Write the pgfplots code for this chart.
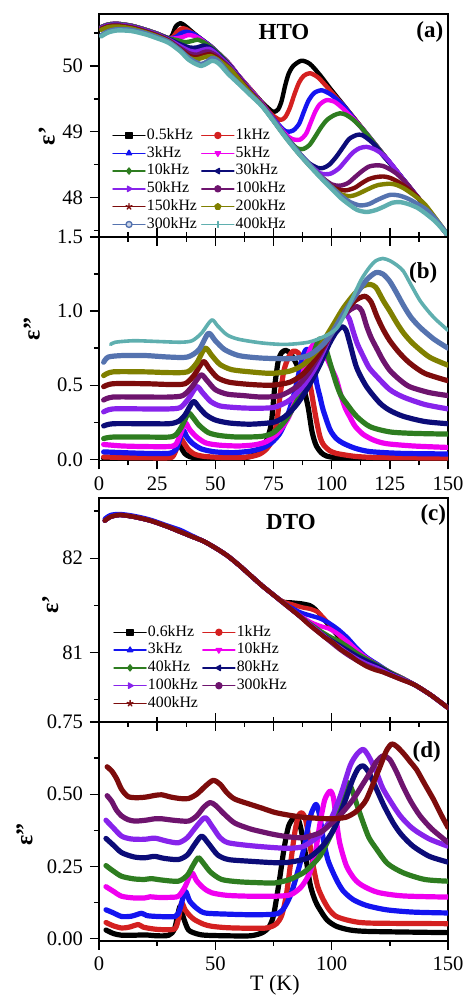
\documentclass[border=0pt]{standalone}
\usepackage{fontspec}
\setmainfont{Liberation Serif}
\usepackage{pgfplots}
\pgfplotsset{compat=1.18}

\definecolor{k05}{RGB}{0,0,0}
\definecolor{r1}{RGB}{212,32,32}
\definecolor{b3}{RGB}{20,20,240}
\definecolor{m5}{RGB}{240,0,240}
\definecolor{g10}{RGB}{46,125,32}
\definecolor{n30}{RGB}{12,12,120}
\definecolor{v50}{RGB}{135,35,235}
\definecolor{p100}{RGB}{110,20,110}
\definecolor{d150}{RGB}{125,12,12}
\definecolor{o200}{RGB}{128,128,0}
\definecolor{s300}{RGB}{85,115,175}
\definecolor{t400}{RGB}{95,175,175}

\tikzset{lab/.style={font=\fontsize{11.5}{12}\selectfont\bfseries}}
\pgfplotsset{
  panel/.style={
    scale only axis, width=174.5pt, xmin=0, xmax=150,
    tick align=outside, ytick pos=left,
    axis line style={line width=0.8pt},
    every tick/.style={black, line width=0.7pt},
    major tick length=4.5pt, minor tick length=2.5pt,
    tick label style={font=\fontsize{10.3}{11}\selectfont},
    /pgf/number format/assume math mode=true,
    ylabel style={font=\fontsize{12}{12}\selectfont\bfseries, anchor=center},
    legend cell align=left,
    legend image code/.code={\draw[##1, line width=0.7pt, mark repeat=2, mark phase=2] plot coordinates {(0pt,0pt) (8pt,0pt) (16pt,0pt)};},
    legend style={draw=none, fill=none, inner sep=0pt, font=\fontsize{7.9}{8}\selectfont,
      row sep=0.9pt, nodes={inner sep=0.6pt, text height=5.3pt, text depth=1.5pt},
      /tikz/every even column/.append style={column sep=1.5pt}},
  },
  crv/.style={line width=2.2pt, smooth, tension=0.45, line join=round, line cap=round,
    mark repeat=1000, mark phase=1000, mark size=1.5pt},
  crvb/.style={line width=2.6pt, smooth, tension=0.45, line join=round, line cap=round},
}

\begin{document}
\begin{tikzpicture}
\useasboundingbox (-49.5pt,-29.5pt) rectangle (183pt,470.5pt);

% ---------------- (a) HTO eps'
\begin{axis}[panel, at={(0pt,352pt)}, height=111.5pt,
  ymin=47.4, ymax=50.79, ytick={48,49,50}, minor ytick={47.5,48.5,49.5,50.5},
  xtick={0,25,...,150}, minor xtick={12.5,37.5,62.5,87.5,112.5,137.5},
  xticklabels={}, xtick pos=bottom,
  ylabel={ε'}, ylabel style={at={(rel axis cs:-0.150,0.453)}},
  legend columns=2, legend style={at={(0.037,0.493)}, anchor=north west}]
\addplot[crv, k05, mark=square*, mark options={solid}] coordinates {
(1,50.59) (4,50.63) (8,50.64) (14,50.61) (20,50.55) (25,50.49) (30,50.42) (31.5,50.47) (33,50.60) (35,50.65) (37,50.61) (41,50.49) (45,50.38) (48,50.30) (52,50.17) (56,50.03) (60,49.85) (65,49.65) (70,49.45) (73,49.35) (75,49.30) (77,49.34) (78.5,49.47) (80,49.70) (81.5,49.88) (83.5,50.00) (87,50.08) (90.7,50.03) (95,49.86) (99.3,49.66) (105,49.41) (110,49.19) (115,48.97) (120,48.75) (125,48.53) (130,48.31) (135,48.09) (140,47.87) (145,47.65) (150,47.42)};
\addlegendentry{0.5kHz}
\addplot[crv, r1, mark=*, mark options={solid}] coordinates {
(1,50.59) (4,50.63) (8,50.64) (14,50.61) (20,50.55) (25,50.49) (30,50.42) (32,50.45) (33.5,50.52) (35.5,50.57) (37.5,50.56) (41,50.48) (45,50.38) (48,50.30) (52,50.17) (56,50.03) (60,49.85) (65,49.65) (70,49.44) (74,49.27) (77.8,49.18) (80,49.22) (82,49.36) (84,49.57) (86,49.75) (88,49.85) (90.7,49.89) (94,49.83) (97,49.72) (100,49.60) (103,49.48) (106,49.36) (110,49.19) (115,48.97) (120,48.75) (125,48.53) (130,48.31) (135,48.09) (140,47.87) (145,47.65) (150,47.42)};
\addlegendentry{1kHz}
\addplot[crv, b3, mark=triangle*, mark options={solid}] coordinates {
(1,50.59) (4,50.63) (8,50.64) (14,50.61) (20,50.55) (25,50.49) (30,50.42) (33,50.44) (35,50.49) (37,50.52) (39,50.51) (41,50.48) (45,50.38) (48,50.30) (52,50.17) (56,50.03) (60,49.85) (65,49.64) (70,49.43) (75,49.20) (79,49.04) (81,49.00) (83.5,49.02) (86,49.12) (88,49.30) (90,49.47) (92.5,49.59) (95.7,49.63) (99,49.58) (102,49.50) (105,49.40) (108,49.27) (110,49.18) (115,48.97) (120,48.75) (125,48.53) (130,48.31) (135,48.09) (140,47.87) (145,47.65) (150,47.42)};
\addlegendentry{3kHz}
\addplot[crv, m5, mark=triangle*, mark options={solid, rotate=180}] coordinates {
(1,50.59) (4,50.63) (8,50.64) (14,50.61) (20,50.55) (25,50.49) (30,50.42) (33,50.42) (36,50.44) (38.3,50.47) (40.5,50.46) (43,50.42) (45,50.37) (48,50.29) (52,50.17) (56,50.03) (60,49.85) (65,49.64) (70,49.43) (75,49.19) (80,48.97) (83,48.89) (86.4,48.88) (89,48.97) (91,49.14) (93,49.31) (95,49.42) (97.8,49.48) (101,49.46) (104,49.38) (107,49.28) (110,49.17) (115,48.97) (120,48.75) (125,48.53) (130,48.31) (135,48.09) (140,47.87) (145,47.65) (150,47.42)};
\addlegendentry{5kHz}
\addplot[crv, g10, mark=diamond*, mark options={solid}] coordinates {
(1,50.59) (4,50.63) (8,50.64) (14,50.61) (20,50.55) (25,50.49) (30,50.42) (34,50.39) (37,50.36) (40,50.38) (42.5,50.40) (45,50.36) (48,50.29) (52,50.17) (56,50.02) (60,49.84) (65,49.63) (70,49.42) (75,49.18) (80,48.94) (85,48.75) (88,48.74) (90.5,48.80) (93,48.93) (95.5,49.07) (98,49.18) (101,49.25) (103.6,49.28) (106,49.26) (109,49.19) (112,49.09) (115,48.97) (120,48.75) (125,48.53) (130,48.31) (135,48.09) (140,47.87) (145,47.65) (150,47.42)};
\addlegendentry{10kHz}
\addplot[crv, n30, mark=triangle*, mark options={solid, rotate=90}] coordinates {
(1,50.58) (4,50.62) (8,50.63) (14,50.60) (20,50.54) (25,50.48) (30,50.41) (35,50.33) (39,50.28) (42,50.28) (45,50.31) (48,50.27) (52,50.15) (56,50.01) (60,49.84) (65,49.62) (70,49.42) (75,49.18) (80,48.94) (85,48.72) (90,48.53) (94,48.45) (96.4,48.45) (99,48.50) (102,48.62) (105,48.77) (107.5,48.89) (110.7,48.95) (113,48.95) (116,48.88) (119,48.78) (122,48.64) (125,48.52) (130,48.31) (135,48.09) (140,47.87) (145,47.65) (150,47.42)};
\addlegendentry{30kHz}
\addplot[crv, v50, mark=triangle*, mark options={solid, rotate=270}] coordinates {
(1,50.58) (4,50.62) (8,50.63) (14,50.60) (20,50.54) (25,50.48) (30,50.40) (35,50.30) (39,50.23) (42,50.22) (45,50.25) (47.5,50.26) (50,50.20) (53,50.10) (56,50.00) (60,49.83) (65,49.62) (70,49.42) (75,49.18) (80,48.94) (85,48.72) (90,48.52) (95,48.37) (99.3,48.36) (103,48.44) (106,48.56) (109,48.68) (112,48.75) (115,48.77) (118,48.74) (121,48.68) (124,48.58) (127,48.45) (130,48.31) (135,48.09) (140,47.87) (145,47.65) (150,47.42)};
\addlegendentry{50kHz}
\addplot[crv, p100, mark=*, mark options={solid}] coordinates {
(1,50.57) (4,50.61) (8,50.62) (14,50.59) (20,50.53) (25,50.47) (30,50.39) (35,50.27) (39,50.19) (42,50.17) (45,50.21) (47,50.22) (50,50.17) (53,50.08) (56,49.98) (60,49.82) (65,49.61) (70,49.41) (75,49.17) (80,48.94) (85,48.71) (90,48.51) (95,48.33) (100,48.20) (103.6,48.18) (107,48.22) (110,48.31) (113,48.40) (116,48.47) (119.3,48.49) (122,48.48) (125,48.43) (128,48.36) (132,48.22) (135,48.09) (140,47.87) (145,47.65) (150,47.42)};
\addlegendentry{100kHz}
\addplot[crv, d150, mark=star, mark options={solid}] coordinates {
(1,50.56) (4,50.60) (8,50.61) (14,50.58) (20,50.52) (25,50.46) (30,50.38) (35,50.25) (39,50.15) (42,50.13) (45,50.16) (47.5,50.18) (50,50.14) (53,50.06) (56,49.96) (60,49.81) (65,49.60) (70,49.41) (75,49.17) (80,48.93) (85,48.71) (90,48.51) (95,48.33) (100,48.17) (103,48.12) (106.4,48.11) (110,48.15) (113,48.22) (116,48.28) (119,48.31) (122.2,48.32) (125,48.30) (128,48.25) (131,48.18) (134,48.10) (137,48.00) (140,47.88) (145,47.65) (150,47.42)};
\addlegendentry{150kHz}
\addplot[crv, o200, mark=pentagon*, mark options={solid}] coordinates {
(1,50.55) (4,50.59) (8,50.60) (14,50.57) (20,50.51) (25,50.45) (30,50.37) (35,50.23) (39,50.12) (42,50.10) (45,50.13) (48,50.15) (51,50.10) (54,50.02) (57,49.93) (60,49.80) (65,49.59) (70,49.40) (75,49.17) (80,48.93) (85,48.71) (90,48.51) (95,48.32) (100,48.16) (104,48.05) (107.9,48.02) (111,48.05) (114,48.10) (117,48.15) (120,48.19) (125,48.21) (128,48.19) (131,48.14) (134,48.07) (137,47.99) (140,47.90) (145,47.67) (150,47.43)};
\addlegendentry{200kHz}
\addplot[crv, s300, mark=*, mark options={solid, fill=s300!30}] coordinates {
(1,50.47) (4,50.53) (8,50.56) (14,50.55) (20,50.50) (25,50.44) (30,50.37) (35,50.24) (38,50.14) (41,50.07) (44,50.03) (46.5,50.07) (48.4,50.12) (50,50.11) (52,50.05) (55.5,49.90) (60,49.74) (65,49.57) (70,49.40) (75,49.18) (80,48.94) (85,48.72) (90,48.52) (95,48.33) (100,48.16) (104,48.03) (108,47.93) (112.2,47.88) (116,47.90) (120,47.97) (125,48.04) (129,48.03) (133,47.98) (137,47.90) (141,47.81) (145,47.66) (150,47.43)};
\addlegendentry{300kHz}
\addplot[crv, t400, mark=+, mark options={solid}] coordinates {
(1,50.45) (4,50.51) (8,50.54) (14,50.53) (20,50.48) (25,50.42) (30,50.35) (35,50.22) (38,50.11) (41,50.04) (44,50.00) (46.5,50.04) (48.5,50.08) (50,50.07) (52,50.02) (55.5,49.88) (60,49.73) (65,49.56) (70,49.39) (75,49.16) (80,48.92) (85,48.70) (90,48.50) (95,48.31) (100,48.13) (104,47.99) (108,47.88) (111,47.81) (115,47.78) (119,47.81) (123,47.87) (126,47.92) (129.4,47.93) (133,47.90) (137,47.84) (141,47.74) (145,47.62) (150,47.42)};
\addlegendentry{400kHz}
\node[lab] at (rel axis cs:0.53,0.918) {HTO};
\node[lab] at (rel axis cs:0.948,0.919) {(a)};
\end{axis}

% ---------------- (b) HTO eps''
\begin{axis}[panel, at={(0pt,240.25pt)}, height=111.75pt,
  ymin=-0.008, ymax=1.5, ytick={0,0.5,1,1.5}, minor ytick={0.25,0.75,1.25},
  yticklabel style={/pgf/number format/fixed, /pgf/number format/fixed zerofill, /pgf/number format/precision=1},
  xtick={0,25,...,150}, minor xtick={12.5,37.5,62.5,87.5,112.5,137.5},
  ylabel={ε''}, ylabel style={at={(rel axis cs:-0.193,0.588)}}]
\addplot[crvb, k05] coordinates {
(2,0.006) (10,0.004) (20,0.003) (28,0.003) (31,0.015) (32.5,0.05) (34.1,0.108) (35.3,0.08) (36.8,0.04) (39,0.018) (43,0.007) (55,0.004) (62,0.008) (66,0.025) (69,0.055) (71.5,0.11) (73,0.17) (74.2,0.26) (75.6,0.5) (77,0.66) (78.5,0.72) (80.3,0.735) (82.5,0.71) (85.5,0.62) (88,0.48) (89.9,0.35) (91.4,0.2) (92.5,0.13) (93.6,0.085) (95.5,0.045) (97.8,0.022) (103,0.01) (120,0.004) (150,0.003)};
\addplot[crvb, r1] coordinates {
(2,0.016) (10,0.012) (20,0.01) (30,0.01) (32,0.025) (33.5,0.08) (35,0.14) (36.5,0.11) (38.5,0.065) (41,0.035) (45,0.02) (52,0.013) (60,0.012) (65,0.018) (69,0.035) (72,0.07) (74.5,0.13) (76.3,0.24) (77.8,0.43) (79.5,0.6) (81.5,0.69) (83.5,0.73) (85.5,0.72) (87.5,0.67) (89.5,0.57) (91,0.48) (92.1,0.38) (93.6,0.25) (95,0.15) (96.4,0.1) (99,0.06) (102,0.04) (110,0.02) (120,0.012) (150,0.008)};
\addplot[crvb, b3] coordinates {
(2,0.05) (10,0.045) (20,0.04) (30,0.04) (33,0.065) (34.6,0.13) (36.2,0.196) (37.8,0.15) (40,0.11) (44,0.07) (50,0.05) (58,0.045) (65,0.055) (70,0.075) (74,0.11) (77.5,0.17) (80,0.25) (83,0.39) (85.5,0.55) (87.3,0.68) (89,0.74) (90.7,0.73) (92.2,0.64) (93.6,0.51) (95,0.42) (96.4,0.33) (99.3,0.2) (102,0.14) (105,0.108) (110,0.075) (116.5,0.052) (130,0.04) (150,0.036)};
\addplot[crvb, m5] coordinates {
(2,0.1) (10,0.09) (20,0.086) (30,0.086) (33,0.1) (35,0.17) (37,0.248) (39,0.2) (42,0.15) (46,0.11) (52,0.095) (60,0.09) (67,0.098) (72,0.12) (77,0.18) (81,0.27) (84,0.38) (87,0.54) (89,0.66) (91,0.75) (93,0.78) (95.5,0.75) (98,0.68) (100,0.61) (102,0.54) (104,0.43) (106,0.34) (107.7,0.29) (110,0.225) (113.4,0.17) (118,0.13) (123.4,0.106) (135,0.09) (150,0.08)};
\addplot[crvb, g10] coordinates {
(2,0.14) (6,0.15) (20,0.15) (30,0.15) (33,0.165) (35.5,0.22) (38.4,0.31) (40.5,0.28) (43,0.23) (47,0.18) (52,0.16) (60,0.15) (70,0.155) (75,0.18) (80,0.26) (85,0.39) (88,0.5) (91,0.64) (93,0.75) (95,0.815) (97,0.77) (99.3,0.65) (102,0.51) (104,0.43) (106.4,0.376) (110.7,0.29) (116.5,0.22) (125,0.185) (135,0.175) (150,0.17)};
\addplot[crvb, n30] coordinates {
(2,0.225) (6,0.24) (20,0.24) (30,0.24) (34,0.255) (37,0.3) (40.5,0.39) (43,0.35) (46,0.3) (50,0.265) (56,0.245) (65,0.237) (75,0.25) (80,0.29) (85,0.37) (90,0.49) (95,0.64) (99,0.78) (102,0.86) (104.5,0.895) (106.2,0.87) (107.7,0.79) (110.7,0.62) (115,0.49) (120.7,0.38) (125,0.33) (130.8,0.29) (140,0.255) (150,0.24)};
\addplot[crvb, v50] coordinates {
(2,0.32) (6,0.34) (20,0.34) (30,0.34) (35,0.35) (38.5,0.41) (42,0.49) (44.5,0.45) (48,0.39) (52,0.36) (58,0.35) (65,0.345) (75,0.35) (82,0.4) (88,0.5) (93,0.62) (97,0.75) (100,0.86) (103,0.95) (105.5,0.985) (107.5,0.95) (109.3,0.86) (111,0.78) (113.4,0.70) (116,0.62) (119.3,0.56) (125,0.47) (130.8,0.42) (140,0.37) (150,0.34)};
\addplot[crvb, p100] coordinates {
(2,0.40) (6,0.42) (20,0.42) (30,0.42) (36,0.43) (40,0.49) (43.8,0.57) (46.5,0.53) (50,0.47) (55,0.44) (62,0.43) (70,0.42) (78,0.43) (85,0.49) (90,0.58) (95,0.71) (100,0.85) (104,0.95) (108,1.01) (111,1.03) (113,1.0) (115,0.9) (117,0.82) (119.3,0.75) (122,0.67) (125,0.6) (129,0.54) (133.5,0.49) (142,0.45) (150,0.43)};
\addplot[crvb, d150] coordinates {
(2,0.49) (6,0.51) (20,0.51) (30,0.505) (37,0.51) (41,0.57) (44.8,0.66) (47.5,0.61) (51,0.55) (56,0.52) (65,0.505) (74,0.5) (82,0.52) (88,0.58) (94,0.7) (100,0.86) (105,0.98) (110,1.07) (114.3,1.10) (117,1.06) (119.3,0.97) (122,0.88) (125,0.8) (129,0.72) (133.5,0.65) (140,0.58) (150,0.53)};
\addplot[crvb, o200] coordinates {
(2,0.565) (6,0.59) (20,0.59) (30,0.585) (38,0.59) (42,0.65) (45.6,0.75) (48.5,0.7) (52,0.64) (57,0.605) (65,0.59) (74,0.58) (82,0.595) (88,0.64) (94,0.74) (100,0.89) (105,1.02) (110,1.12) (113.5,1.17) (116.5,1.18) (119,1.16) (122.2,1.07) (125,1.0) (128,0.92) (131,0.85) (135,0.78) (142,0.69) (150,0.635)};
\addplot[crvb, s300] coordinates {
(2,0.655) (4,0.69) (10,0.70) (20,0.70) (30,0.69) (38,0.69) (43,0.74) (47,0.85) (50,0.8) (54,0.74) (60,0.7) (68,0.685) (75,0.68) (83,0.68) (90,0.7) (96,0.77) (100,0.85) (105,0.98) (110,1.1) (115,1.21) (119,1.26) (122,1.25) (125,1.2) (128,1.12) (130.8,1.04) (134,0.96) (138,0.89) (144,0.81) (150,0.75)};
\addplot[crvb, t400, line width=1.8pt] coordinates {
(5,0.775) (7,0.79) (15,0.80) (25,0.795) (35,0.79) (40,0.8) (44,0.85) (48.4,0.94) (51,0.9) (55,0.84) (60,0.81) (70,0.785) (80,0.775) (90,0.79) (97,0.83) (102,0.88) (105.5,0.97) (109.3,1.1) (113,1.22) (116.5,1.3) (119,1.34) (122,1.355) (125,1.34) (128,1.31) (130.8,1.27) (134,1.18) (138,1.07) (142,0.99) (145,0.94) (150,0.87)};
\node[lab] at (rel axis cs:0.929,0.838) {(b)};
\end{axis}

% ---------------- (c) DTO eps'
\begin{axis}[panel, at={(0pt,109.5pt)}, height=112pt,
  ymin=80.26, ymax=82.64, ytick={81,82}, minor ytick={80.5,81.5,82.5},
  xtick={0,25,...,150}, minor xtick={12.5,37.5,62.5,87.5,112.5,137.5},
  xticklabels={}, xtick pos=bottom,
  ylabel={ε'}, ylabel style={at={(rel axis cs:-0.140,0.524)}},
  legend columns=2, legend style={at={(0.040,0.438)}, anchor=north west}]
\addplot[crv, k05, mark=square*, mark options={solid}] coordinates {
(2.5,82.40) (5,82.44) (9,82.46) (15,82.44) (22,82.40) (29,82.34) (35,82.28) (40,82.23) (45,82.18) (50,82.11) (55,82.03) (60,81.93) (65,81.82) (70,81.71) (75,81.61) (79,81.54) (83,81.53) (87,81.52) (90.7,81.50) (93,81.46) (95,81.40) (98,81.31) (100.7,81.23) (104,81.14) (107.8,81.06) (111,80.98) (115,80.92) (120,80.85) (125,80.78) (130,80.72) (136,80.65) (143,80.54) (150,80.41)};
\addlegendentry{0.6kHz}
\addplot[crv, r1, mark=*, mark options={solid}] coordinates {
(2.5,82.40) (5,82.44) (9,82.46) (15,82.44) (22,82.40) (29,82.34) (35,82.28) (40,82.23) (45,82.18) (50,82.11) (55,82.03) (60,81.93) (65,81.82) (70,81.71) (75,81.61) (79,81.54) (83,81.51) (87,81.48) (91,81.46) (94,81.43) (96,81.38) (99,81.30) (102,81.21) (106,81.11) (110,81.02) (115,80.93) (120,80.86) (125,80.79) (130,80.73) (136,80.65) (143,80.54) (150,80.41)};
\addlegendentry{1kHz}
\addplot[crv, b3, mark=triangle*, mark options={solid}] coordinates {
(2.5,82.42) (5,82.46) (9,82.47) (15,82.45) (22,82.41) (29,82.35) (35,82.30) (40,82.24) (45,82.18) (50,82.11) (55,82.03) (60,81.93) (65,81.82) (70,81.71) (75,81.61) (79,81.53) (83,81.47) (87,81.42) (91,81.39) (95,81.36) (99,81.31) (103,81.24) (107,81.15) (111,81.04) (115,80.95) (120,80.87) (125,80.79) (130,80.73) (136,80.65) (143,80.54) (150,80.41)};
\addlegendentry{3kHz}
\addplot[crv, m5, mark=triangle*, mark options={solid, rotate=180}] coordinates {
(2.5,82.40) (5,82.44) (9,82.46) (15,82.44) (22,82.40) (29,82.34) (35,82.28) (40,82.23) (45,82.18) (50,82.11) (55,82.03) (60,81.93) (65,81.82) (70,81.71) (75,81.61) (79,81.53) (83,81.45) (87,81.38) (91,81.32) (95,81.28) (99,81.25) (103,81.19) (107,81.11) (111,81.02) (115,80.94) (120,80.86) (125,80.79) (130,80.73) (136,80.65) (143,80.54) (150,80.41)};
\addlegendentry{10kHz}
\addplot[crv, g10, mark=diamond*, mark options={solid}] coordinates {
(2.5,82.40) (5,82.44) (9,82.46) (15,82.44) (22,82.40) (29,82.34) (35,82.28) (40,82.23) (45,82.18) (50,82.11) (55,82.03) (60,81.93) (65,81.82) (70,81.71) (75,81.61) (79,81.53) (83,81.45) (87,81.37) (91,81.30) (95,81.23) (99,81.17) (103,81.12) (107,81.06) (111,80.99) (115,80.93) (120,80.86) (125,80.79) (130,80.73) (136,80.65) (143,80.54) (150,80.41)};
\addlegendentry{40kHz}
\addplot[crv, n30, mark=triangle*, mark options={solid, rotate=90}] coordinates {
(2.5,82.40) (5,82.44) (9,82.46) (15,82.44) (22,82.40) (29,82.34) (35,82.28) (40,82.23) (45,82.18) (50,82.11) (55,82.03) (60,81.93) (65,81.82) (70,81.71) (75,81.61) (79,81.53) (83,81.45) (87,81.37) (91,81.29) (95,81.21) (99,81.14) (103,81.08) (107,81.02) (111,80.96) (115,80.91) (120,80.85) (125,80.78) (130,80.72) (136,80.65) (143,80.54) (150,80.41)};
\addlegendentry{80kHz}
\addplot[crv, v50, mark=triangle*, mark options={solid, rotate=270}] coordinates {
(2.5,82.40) (5,82.44) (9,82.46) (15,82.44) (22,82.40) (29,82.34) (35,82.28) (40,82.23) (45,82.18) (50,82.11) (55,82.03) (60,81.93) (65,81.82) (70,81.71) (75,81.61) (79,81.53) (83,81.45) (87,81.37) (91,81.29) (95,81.21) (99,81.13) (103,81.06) (107,80.99) (111,80.93) (115,80.88) (120,80.83) (125,80.77) (130,80.72) (136,80.65) (143,80.54) (150,80.41)};
\addlegendentry{100kHz}
\addplot[crv, p100, mark=*, mark options={solid}] coordinates {
(2.5,82.40) (5,82.44) (9,82.46) (15,82.44) (22,82.40) (29,82.34) (35,82.28) (40,82.23) (45,82.18) (50,82.11) (55,82.03) (60,81.93) (65,81.82) (70,81.71) (75,81.61) (79,81.53) (83,81.45) (87,81.37) (91,81.28) (95,81.20) (99,81.12) (103,81.04) (107,80.97) (111,80.91) (115,80.86) (120,80.81) (125,80.76) (130,80.71) (136,80.65) (143,80.54) (150,80.41)};
\addlegendentry{300kHz}
\addplot[crv, d150, mark=star, mark options={solid}] coordinates {
(2.5,82.40) (5,82.44) (9,82.46) (15,82.44) (22,82.40) (29,82.34) (35,82.28) (40,82.23) (45,82.18) (50,82.11) (55,82.03) (60,81.93) (65,81.82) (70,81.71) (75,81.61) (79,81.53) (83,81.45) (86.4,81.38) (90,81.30) (93.5,81.23) (97,81.16) (100.7,81.10) (104,81.03) (107.8,80.97) (111,80.91) (115,80.85) (119,80.81) (122,80.79) (126,80.75) (130,80.71) (136,80.65) (143,80.54) (150,80.41)};
\addlegendentry{400kHz}
\node[lab] at (rel axis cs:0.55,0.891) {DTO};
\node[lab] at (rel axis cs:0.958,0.924) {(c)};
\end{axis}

% ---------------- (d) DTO eps''
\begin{axis}[panel, at={(0pt,0pt)}, height=109.5pt,
  ymin=-0.008, ymax=0.75, ytick={0,0.25,0.5,0.75}, minor ytick={0.125,0.375,0.625},
  yticklabel style={/pgf/number format/fixed, /pgf/number format/fixed zerofill, /pgf/number format/precision=2},
  xtick={0,50,100,150}, minor xtick={25,75,125},
  xlabel={T (K)}, xlabel style={at={(rel axis cs:0.504,0)}, yshift=-22pt, anchor=center, font=\fontsize{11}{12}\selectfont},
  ylabel={ε''}, ylabel style={at={(rel axis cs:-0.2135,0.485)}}]
\addplot[crvb, k05] coordinates {
(3,0.03) (4.5,0.024) (6.5,0.017) (9.7,0.012) (15,0.012) (20,0.013) (25,0.01) (30,0.012) (32.5,0.035) (34.8,0.112) (36.2,0.075) (38.4,0.031) (42,0.017) (45.6,0.012) (55,0.01) (65,0.01) (70,0.02) (73,0.04) (75,0.08) (77.5,0.2) (79.5,0.31) (81.5,0.39) (84,0.42) (86,0.405) (88,0.33) (90.7,0.19) (93,0.13) (95,0.1) (98,0.065) (102,0.043) (108,0.03) (116.5,0.025) (150,0.021)};
\addplot[crvb, r1] coordinates {
(3,0.056) (6,0.045) (9.7,0.037) (13,0.04) (16.9,0.049) (19,0.04) (24,0.033) (29,0.031) (32.7,0.035) (34.2,0.07) (35.5,0.124) (37,0.1) (39,0.08) (41,0.066) (45,0.05) (48.4,0.043) (55,0.038) (65,0.036) (72,0.037) (76,0.05) (78.5,0.08) (80.5,0.15) (82.5,0.27) (84.2,0.37) (85.7,0.425) (87.2,0.436) (88.7,0.415) (90.2,0.35) (92.1,0.251) (94,0.18) (96.4,0.135) (99,0.1) (102,0.077) (108,0.062) (116.5,0.054) (150,0.052)};
\addplot[crvb, b3] coordinates {
(3,0.10) (6,0.09) (9.7,0.077) (14,0.078) (18.3,0.088) (20.5,0.08) (25,0.077) (32.7,0.077) (34.7,0.1) (37,0.164) (39,0.13) (42,0.105) (45.6,0.089) (55,0.085) (65,0.083) (75.6,0.085) (79,0.1) (82.3,0.15) (85,0.22) (88,0.31) (90.7,0.42) (93.3,0.465) (95,0.42) (96.4,0.344) (98.5,0.27) (102,0.205) (105,0.165) (109.3,0.135) (115,0.115) (123.6,0.10) (135,0.092) (150,0.089)};
\addplot[crvb, m5] coordinates {
(3,0.18) (6,0.165) (9.7,0.147) (15,0.141) (19.6,0.141) (22,0.145) (25,0.143) (30,0.143) (34.1,0.147) (37,0.18) (39.8,0.228) (42,0.2) (45,0.175) (48.4,0.159) (55,0.15) (65,0.147) (75.6,0.147) (82.3,0.152) (87,0.18) (90.7,0.23) (93,0.3) (95,0.40) (97,0.48) (99.3,0.511) (100.7,0.49) (102,0.41) (103.5,0.33) (106.4,0.251) (110,0.205) (113.6,0.182) (120,0.16) (130.8,0.148) (150,0.144)};
\addplot[crvb, g10] coordinates {
(3,0.253) (6,0.235) (9.7,0.216) (15,0.207) (19.6,0.205) (22.4,0.208) (27,0.203) (34.1,0.199) (38,0.22) (40.5,0.255) (42.7,0.28) (45,0.26) (48,0.23) (52.7,0.205) (60,0.197) (68,0.194) (75.6,0.193) (82,0.205) (87.8,0.228) (91,0.25) (95,0.286) (98.5,0.34) (102,0.40) (104.5,0.48) (106.5,0.54) (108.5,0.52) (111,0.46) (113.6,0.40) (116,0.35) (119.3,0.31) (124,0.26) (130.8,0.228) (140,0.205) (150,0.199)};
\addplot[crvb, n30] coordinates {
(3,0.347) (6,0.325) (9.7,0.298) (15,0.283) (19.6,0.28) (23.9,0.285) (28,0.278) (34.1,0.274) (38,0.29) (41,0.325) (44.1,0.355) (47,0.33) (51,0.29) (55.6,0.274) (65,0.268) (75.6,0.263) (82,0.265) (90,0.28) (96,0.32) (101,0.38) (105,0.46) (109,0.55) (111.5,0.59) (113.6,0.598) (116,0.575) (119.3,0.517) (122.5,0.46) (126.5,0.40) (130,0.36) (135,0.32) (142,0.285) (150,0.265)};
\addplot[crvb, v50] coordinates {
(3,0.41) (6,0.385) (9.7,0.355) (14,0.345) (19.6,0.344) (24,0.348) (29,0.338) (34.1,0.332) (38,0.35) (42,0.39) (45.6,0.419) (48.5,0.39) (52,0.35) (55.6,0.332) (65,0.322) (75.6,0.315) (82,0.313) (88,0.32) (95,0.36) (100,0.42) (104,0.5) (108,0.6) (111,0.64) (113.6,0.655) (116,0.63) (119.3,0.575) (122,0.52) (126.5,0.46) (130,0.42) (135,0.38) (142,0.345) (150,0.32)};
\addplot[crvb, p100] coordinates {
(3.5,0.495) (5.5,0.475) (7.5,0.445) (9.7,0.425) (12.5,0.412) (15.5,0.407) (20,0.41) (24,0.415) (27,0.415) (32,0.41) (38.4,0.407) (42,0.425) (45,0.455) (47.7,0.471) (50,0.462) (54,0.43) (58.4,0.40) (65,0.38) (70,0.37) (75.6,0.36) (82,0.352) (88,0.35) (95,0.367) (100,0.4) (105,0.44) (109.3,0.483) (113,0.53) (116.5,0.575) (119.5,0.615) (122.2,0.633) (125,0.62) (128,0.575) (130.8,0.525) (134,0.475) (138,0.425) (143,0.38) (150,0.333)};
\addplot[crvb, d150] coordinates {
(3.5,0.595) (5.5,0.58) (7.5,0.555) (9.7,0.517) (12.5,0.492) (16,0.488) (20,0.49) (24,0.496) (27,0.498) (31,0.49) (35,0.485) (38.4,0.485) (42,0.5) (46,0.53) (49.1,0.548) (52,0.535) (55,0.505) (58.4,0.483) (65,0.465) (70,0.452) (75.6,0.437) (82,0.427) (88,0.42) (93.5,0.417) (100,0.415) (106,0.42) (110,0.437) (113,0.46) (115,0.483) (118,0.54) (121,0.6) (123.5,0.65) (125.8,0.674) (128,0.665) (131,0.64) (134,0.61) (136.5,0.585) (140,0.535) (143.7,0.483) (147,0.43) (150,0.385)};
\node[lab] at (rel axis cs:0.939,0.861) {(d)};
\end{axis}
\end{tikzpicture}
\end{document}
